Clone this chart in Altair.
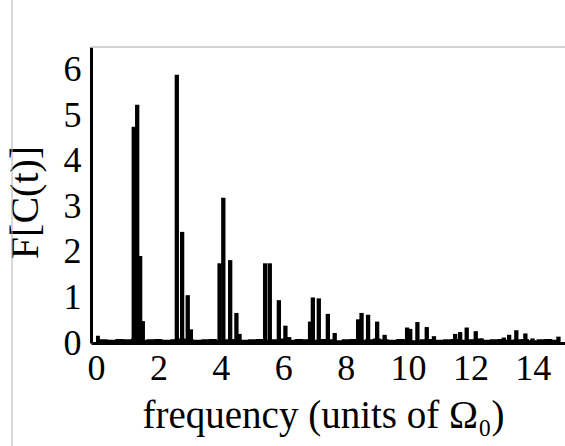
import altair as alt
import pandas as pd

# Peak positions (units of Omega_0) and amplitudes
bar_freq = [1.21, 1.32, 1.415, 1.50,
            2.59, 2.76, 2.94, 3.04,
            3.96, 4.08, 4.30, 4.50, 4.60,
            5.42, 5.57, 5.86, 6.07, 6.19,
            6.86, 6.95, 7.14, 7.43, 7.65,
            8.40, 8.51, 8.72, 9.01, 9.25,
            9.97, 10.07, 10.30, 10.60, 10.83,
            11.51, 11.67, 11.88, 12.17, 12.36,
            13.07, 13.24, 13.47, 13.76, 13.99,
            14.82]
bar_amp = [4.75, 5.23, 1.91, 0.48,
           5.89, 2.44, 1.05, 0.30,
           1.75, 3.19, 1.82, 0.66, 0.20,
           1.75, 1.75, 0.94, 0.38, 0.13,
           0.47, 1.00, 0.98, 0.64, 0.22,
           0.52, 0.66, 0.62, 0.47, 0.18,
           0.34, 0.31, 0.46, 0.35, 0.15,
           0.20, 0.24, 0.34, 0.26, 0.10,
           0.12, 0.18, 0.28, 0.21, 0.10,
           0.14]

# Low-level background noise of the spectrum
floor_freq = [0.0, 0.25, 0.5, 0.75, 1.0, 1.25, 1.5, 1.75, 2.0, 2.25,
              2.5, 2.75, 3.0, 3.25, 3.5, 3.75, 4.0, 4.25, 4.5, 4.75,
              5.0, 5.25, 5.5, 5.75, 6.0, 6.25, 6.5, 6.75, 7.0, 7.25,
              7.5, 7.75, 8.0, 8.25, 8.5, 8.75, 9.0, 9.25, 9.5, 9.75,
              10.0, 10.25, 10.5, 10.75, 11.0, 11.25, 11.5, 11.75, 12.0, 12.25,
              12.5, 12.75, 13.0, 13.25, 13.5, 13.75, 14.0, 14.25, 14.5, 14.75, 14.87]
floor_amp = [0.16, 0.08, 0.07, 0.09, 0.08, 0.10, 0.07, 0.08, 0.09, 0.07,
             0.08, 0.10, 0.09, 0.07, 0.08, 0.09, 0.06, 0.08, 0.09, 0.07,
             0.08, 0.09, 0.07, 0.08, 0.10, 0.07, 0.09, 0.08, 0.07, 0.09,
             0.08, 0.06, 0.08, 0.09, 0.07, 0.08, 0.10, 0.08, 0.07, 0.09,
             0.08, 0.06, 0.08, 0.09, 0.07, 0.08, 0.09, 0.07, 0.08, 0.10,
             0.07, 0.08, 0.09, 0.07, 0.08, 0.09, 0.06, 0.08, 0.09, 0.07, 0.07]

x_ticks = [0, 2, 4, 6, 8, 10, 12, 14]
y_ticks = [0, 1, 2, 3, 4, 5, 6]

FONT = "Liberation Serif"

bars = pd.DataFrame({"f": bar_freq, "a": bar_amp})
floor = pd.DataFrame({"f": floor_freq, "a": floor_amp})
one = pd.DataFrame({"k": [0]})

xscale = alt.Scale(domain=[0, 14.87], nice=False, zero=False)
yscale = alt.Scale(domain=[0, 6.5], nice=False)

xaxis = alt.Axis(
    values=x_ticks, title="frequency (units of Ω₀)", grid=False, ticks=False,
    domainColor="black", domainWidth=3, labelFont=FONT, labelFontSize=36,
    labelColor="black", labelPadding=8, labelFlush=False, labelOverlap=False,
    titleFont=FONT, titleFontSize=39, titleFontWeight="normal", titleColor="black",
    titleBaseline="alphabetic", titleY=84, titleX=232, titleAlign="center",
)
yaxis = alt.Axis(
    values=y_ticks, title="F[C(t)]", grid=False, ticks=False,
    domainColor="black", domainWidth=3, labelFont=FONT, labelFontSize=36,
    labelColor="black", labelPadding=10, labelOverlap=False, labelFlush=False,
    titleFont=FONT, titleFontSize=40, titleFontWeight="normal", titleColor="black",
    titleBaseline="alphabetic", titleX=-54, titleY=155, titleAlign="center",
    titleAngle=270,
)

noise = alt.Chart(floor).mark_area(interpolate="step", color="black").encode(
    x=alt.X("f:Q", scale=xscale, axis=xaxis),
    y=alt.Y("a:Q", scale=yscale, axis=yaxis),
)

peaks = alt.Chart(bars).mark_bar(color="black", size=4.3).encode(
    x=alt.X("f:Q", scale=xscale),
    y=alt.Y("a:Q", scale=yscale),
)

top_line = alt.Chart(one).mark_rule(color="#c4c4c4", strokeWidth=1.5).encode(
    x=alt.value(0), x2=alt.value(474), y=alt.value(0)
)
frame_line = alt.Chart(one).mark_rule(color="#b0b0b0", strokeWidth=1).encode(
    x=alt.value(-79), y=alt.value(-47), y2=alt.value(399)
)

chart = alt.layer(noise, peaks, top_line, frame_line).properties(
    width=474, height=296,
    autosize=alt.AutoSizeParams(type="none"),
    padding={"left": 91, "top": 47, "right": 0, "bottom": 103},
    background="white",
).configure(font=FONT).configure_axis(
    labelFont=FONT, titleFont=FONT
).configure_view(stroke=None)

chart.save("out.html", embed_options={"renderer": "svg", "actions": False})
